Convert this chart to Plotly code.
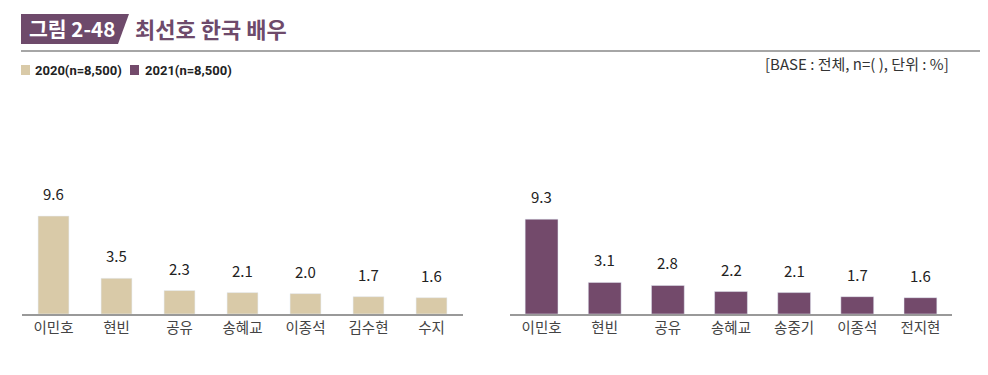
import plotly.graph_objects as go

cats_2020 = ["이민호", "현빈", "공유", "송혜교", "이종석", "김수현", "수지"]
vals_2020 = [9.6, 3.5, 2.3, 2.1, 2.0, 1.7, 1.6]
cats_2021 = ["이민호", "현빈", "공유", "송혜교", "송중기", "이종석", "전지현"]
vals_2021 = [9.3, 3.1, 2.8, 2.2, 2.1, 1.7, 1.6]

legend_2020 = "2020(n=8,500)"
legend_2021 = "2021(n=8,500)"
fig_label = "그림 2-48"
title_text = "최선호 한국 배우"
note_text = "[BASE : 전체, n=( ), 단위 : %]"

C20 = "#d9caa8"
C21 = "#734a6b"
TITLE_PURPLE = "#6e4a6b"
KFONT = "Noto Sans CJK KR"

# page body has an 8px margin; work in screen coordinates and convert
OFF = 8
W, H = 988 - OFF, 375 - OFF
def px(x):
    return (x - OFF) / W
def py(y):
    return 1 - (y - OFF) / H

fig = go.Figure()
fig.add_trace(go.Bar(x=cats_2020, y=vals_2020, marker_color=C20, width=0.49,
                     xaxis="x", yaxis="y", showlegend=False, hoverinfo="skip"))
fig.add_trace(go.Bar(x=cats_2021, y=vals_2021, marker_color=C21, width=0.52,
                     xaxis="x2", yaxis="y2", showlegend=False, hoverinfo="skip"))

annotations = []
for c, v in zip(cats_2020, vals_2020):
    annotations.append(dict(x=c, y=v, xref="x", yref="y", text=f"{v:.1f}", showarrow=False,
                            yanchor="bottom", yshift=10, font=dict(family=KFONT, size=15, color="#222")))
for c, v in zip(cats_2021, vals_2021):
    annotations.append(dict(x=c, y=v, xref="x2", yref="y2", text=f"{v:.1f}", showarrow=False,
                            yanchor="bottom", yshift=10, font=dict(family=KFONT, size=15, color="#222")))

# title texts
annotations.append(dict(x=px(72), y=py(28.5), xref="paper", yref="paper", text=f"<b>{fig_label}</b>",
                        showarrow=False, xanchor="center", yanchor="middle",
                        font=dict(family=KFONT, size=20.5, color="white")))
annotations.append(dict(x=px(133), y=py(28.5), xref="paper", yref="paper", text=f"<b>{title_text}</b>",
                        showarrow=False, xanchor="left", yanchor="middle",
                        font=dict(family=KFONT, size=22, color=TITLE_PURPLE)))
# legend
annotations.append(dict(x=px(33), y=py(70.5), xref="paper", yref="paper", text=f"<b>{legend_2020}</b>",
                        showarrow=False, xanchor="left", yanchor="middle",
                        font=dict(family="Roboto", size=13, color="#222")))
annotations.append(dict(x=px(143), y=py(70.5), xref="paper", yref="paper", text=f"<b>{legend_2021}</b>",
                        showarrow=False, xanchor="left", yanchor="middle",
                        font=dict(family="Roboto", size=13, color="#222")))
# note
annotations.append(dict(x=px(951), y=py(63), xref="paper", yref="paper", text=note_text,
                        showarrow=False, xanchor="right", yanchor="middle",
                        font=dict(family=KFONT, size=15, color="#333")))

shapes = [
    dict(type="path", xref="paper", yref="paper",
         path=f"M {px(21)} {py(14)} L {px(129)} {py(14)} L {px(118)} {py(44)} L {px(21)} {py(44)} Z",
         fillcolor=TITLE_PURPLE, line=dict(width=0)),
    dict(type="line", xref="paper", yref="paper", x0=px(21), x1=1.0, y0=py(51), y1=py(51),
         line=dict(color="#a6a6a6", width=2)),
    dict(type="rect", xref="paper", yref="paper", x0=px(21), x1=px(30), y0=py(75), y1=py(65),
         fillcolor=C20, line=dict(width=0)),
    dict(type="rect", xref="paper", yref="paper", x0=px(130), x1=px(139), y0=py(75), y1=py(65),
         fillcolor=C21, line=dict(width=0)),
]

ytop = 314 - 12 * 10.2
xax = dict(showline=True, linecolor="#999", linewidth=1.5, showgrid=False, zeroline=False,
           ticks="", tickfont=dict(family=KFONT, size=14.5, color="#444"), fixedrange=True)
yax = dict(visible=False, range=[0, 12], showgrid=False, zeroline=False, fixedrange=True)

fig.update_layout(
    width=W, height=H, margin=dict(l=0, r=0, t=0, b=0),
    paper_bgcolor="white", plot_bgcolor="white",
    xaxis=dict(xax, domain=[px(22), px(463)], anchor="y"),
    xaxis2=dict(xax, domain=[px(510), px(952)], anchor="y2"),
    yaxis=dict(yax, domain=[py(314), py(ytop)], anchor="x"),
    yaxis2=dict(yax, domain=[py(314), py(ytop)], anchor="x2"),
    annotations=annotations, shapes=shapes, showlegend=False,
)

fig.write_html("out.html")
